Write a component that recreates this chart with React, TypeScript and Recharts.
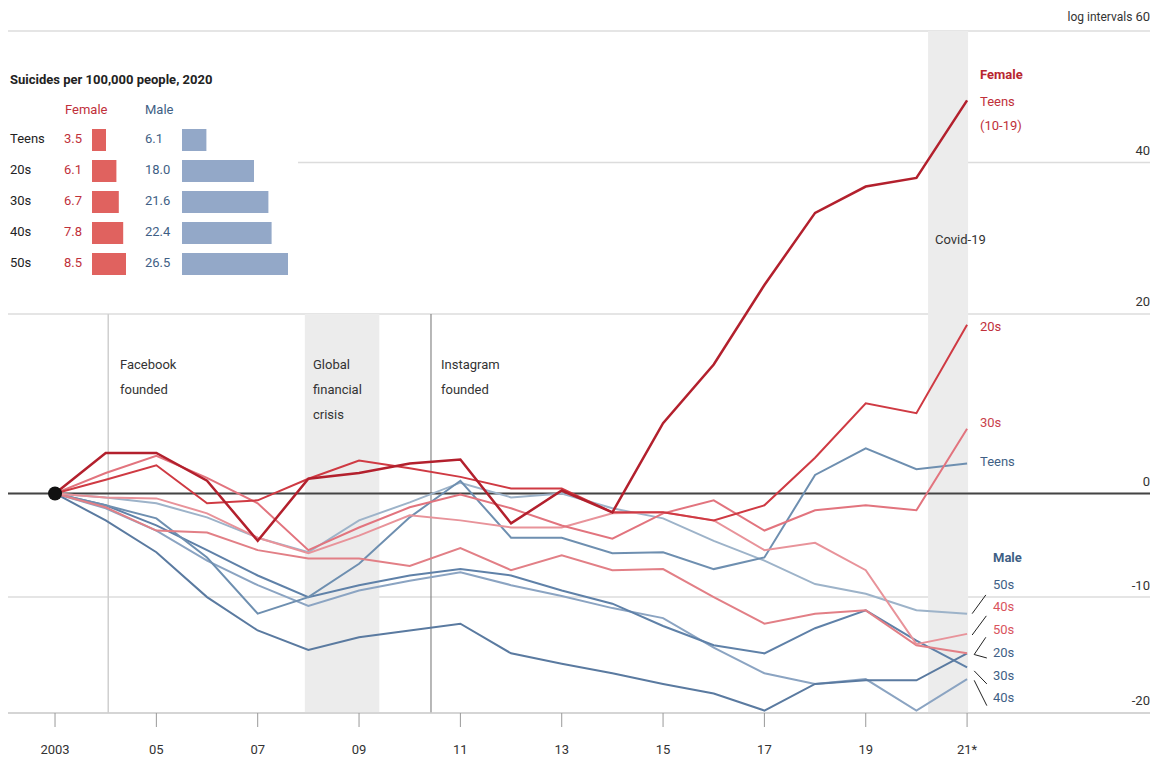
import React from 'react';
import {
  LineChart, Line, XAxis, YAxis, CartesianGrid, ReferenceArea, ReferenceLine, ReferenceDot,
  BarChart, Bar, LabelList,
} from 'recharts';

const FONT = "Roboto, 'Open Sans', sans-serif";

// ---- Main chart data: % change since 2003 (log scale) ----
const years = [2003, 2004, 2005, 2006, 2007, 2008, 2009, 2010, 2011, 2012, 2013, 2014, 2015, 2016, 2017, 2018, 2019, 2020, 2021];
const femaleTeens = [0, 4.2, 4.2, 1.3, -4.7, 1.5, 2.1, 3.1, 3.5, -3.0, 0.3, -1.9, 7.4, 14.0, 23.6, 33.0, 36.6, 37.8, 49.1];
const female20s = [0, 1.4, 2.9, -1.0, -0.7, 1.5, 3.4, 2.6, 1.7, 0.5, 0.5, -1.9, -1.9, -2.7, -1.2, 3.7, 9.6, 8.5, 18.7];
const female30s = [0, 2.1, 3.9, 1.6, -1.0, -5.6, -3.4, -1.4, -0.1, -1.5, -3.2, -4.5, -2.0, -0.7, -3.7, -1.7, -1.2, -1.7, 6.8];
const female40s = [0, -0.4, -0.5, -2.0, -4.4, -5.9, -4.2, -2.2, -2.7, -3.4, -3.4, -2.0, -1.9, -2.7, -5.6, -4.9, -7.5, -14.2, -13.3];
const female50s = [0, -1.4, -3.7, -3.9, -5.6, -6.4, -6.4, -7.1, -5.4, -7.5, -6.1, -7.5, -7.4, -10.0, -12.4, -11.5, -11.2, -14.3, -15.0];
const maleTeens = [0, -1.2, -2.5, -6.3, -11.5, -10.0, -6.9, -2.4, 1.3, -4.4, -4.4, -5.9, -5.8, -7.4, -6.3, 1.9, 4.7, 2.5, 3.1];
const male20s = [0, -2.7, -5.8, -10.0, -13.0, -14.7, -13.6, -13.0, -12.4, -15.0, -15.9, -16.7, -17.6, -18.4, -19.8, -17.6, -17.3, -17.3, -15.0];
const male30s = [0, -1.2, -3.2, -5.6, -8.0, -10.0, -8.9, -8.0, -7.4, -8.0, -9.4, -10.6, -12.6, -14.3, -15.0, -12.8, -11.2, -13.9, -16.2];
const male40s = [0, -1.5, -3.7, -6.6, -8.9, -10.8, -9.4, -8.5, -7.7, -8.9, -9.9, -11.0, -11.9, -14.5, -16.7, -17.6, -17.2, -19.8, -17.2];
const male50s = [0, -0.4, -1.0, -2.4, -4.4, -5.8, -2.7, -0.9, 1.1, -0.4, 0, -1.5, -2.5, -4.7, -6.6, -8.8, -9.7, -11.2, -11.5];

const xTicks = [2003, 2005, 2007, 2009, 2011, 2013, 2015, 2017, 2019, 2021];
const yTicks = [-20, -10, 0, 20, 40, 60];

// ---- Inset data: suicides per 100,000 people, 2020 ----
const ageGroups = ['Teens', '20s', '30s', '40s', '50s'];
const femaleRates = [3.5, 6.1, 6.7, 7.8, 8.5];
const maleRates = [6.1, 18.0, 21.6, 22.4, 26.5];

const series = [
  { key: 'm50', values: male50s, color: '#9db3c9', width: 2 },
  { key: 'm40', values: male40s, color: '#8ba4c2', width: 2 },
  { key: 'm30', values: male30s, color: '#5f81a8', width: 2 },
  { key: 'm20', values: male20s, color: '#5a7aa0', width: 2 },
  { key: 'mTeens', values: maleTeens, color: '#6e8fb0', width: 2 },
  { key: 'f50', values: female50s, color: '#e27f86', width: 2 },
  { key: 'f40', values: female40s, color: '#e8939a', width: 2 },
  { key: 'f30', values: female30s, color: '#e2747e', width: 2 },
  { key: 'f20', values: female20s, color: '#cf3a43', width: 2 },
  { key: 'fTeens', values: femaleTeens, color: '#b3202d', width: 2.5 },
];

const idx = (pct: number) => 100 + pct;

const data = years.map((year, i) => {
  const row: Record<string, number> = { year };
  series.forEach((s) => { row[s.key] = idx(s.values[i]); });
  return row;
});

const insetData = ageGroups.map((g, i) => ({ group: g, female: femaleRates[i], male: maleRates[i] }));

const YTick = (props: any) => {
  const { y, payload } = props;
  const v = Math.round(payload.value - 100);
  if (v === 60) {
    return (
      <text x={1150} y={y - 13} textAnchor="end" dominantBaseline="middle" fontFamily={FONT} fontSize={13} fill="#333">
        <tspan fontSize={12}>log intervals </tspan>60
      </text>
    );
  }
  return (
    <text x={1150} y={y - 11} textAnchor="end" dominantBaseline="middle" fontFamily={FONT} fontSize={13} fill="#333">
      {v}
    </text>
  );
};

const XTick = (props: any) => {
  const { x, y, payload } = props;
  const v = payload.value;
  const label = v === 2003 ? '2003' : v === 2021 ? '21*' : String(v).slice(2);
  return (
    <text x={x} y={y + 22} textAnchor="middle" dominantBaseline="middle" fontFamily={FONT} fontSize={13} fill="#333">
      {label}
    </text>
  );
};

const connectors: { x1: number; y1: number; x2: number; y2: number }[] = [
  { x1: 2021.1, y1: -11.5, x2: 2021.37, y2: -9.8 },
  { x1: 2021.1, y1: -13.4, x2: 2021.38, y2: -11.7 },
  { x1: 2021.14, y1: -15.1, x2: 2021.37, y2: -13.6 },
  { x1: 2021.14, y1: -15.1, x2: 2021.39, y2: -15.4 },
  { x1: 2021.14, y1: -16.5, x2: 2021.39, y2: -17.6 },
  { x1: 2021.14, y1: -17.3, x2: 2021.39, y2: -19.4 },
];

const txt = (extra: React.CSSProperties): React.CSSProperties => ({
  position: 'absolute', fontFamily: FONT, fontSize: 13, color: '#333', lineHeight: '25px', whiteSpace: 'nowrap', ...extra,
});

const lbl = (text: string, left: number, cy: number, color: string, bold = false) => (
  <div key={text + cy} style={txt({ left, top: cy - 9, lineHeight: '18px', color, fontWeight: bold ? 700 : 400 })}>{text}</div>
);

export default function App() {
  return (
    <div style={{ position: 'absolute', left: 0, top: 0, width: 1158, height: 762, background: '#fff', overflow: 'hidden' }}>
      <LineChart width={1158} height={762} data={data} margin={{ top: 31, right: 0, left: 8, bottom: 0 }}>
        <CartesianGrid vertical={false} stroke="#dcdcdc" strokeWidth={1.5} />
        <ReferenceArea x1={2007.93} x2={2009.4} y1={120} y2={80} fill="#ececec" fillOpacity={1} stroke="none" ifOverflow="hidden" />
        <ReferenceArea x1={2020.23} x2={2021.02} y1={160} y2={80} fill="#ececec" fillOpacity={1} stroke="none" ifOverflow="hidden" />
        <ReferenceLine segment={[{ x: 2004.05, y: 120 }, { x: 2004.05, y: 80 }]} stroke="#cfcfcf" strokeWidth={1.5} />
        <ReferenceLine segment={[{ x: 2010.42, y: 120 }, { x: 2010.42, y: 80 }]} stroke="#888" strokeWidth={1.2} />
        <XAxis
          dataKey="year" type="number" domain={[2002.072, 2024.61]} ticks={xTicks} allowDataOverflow
          height={49} axisLine={{ stroke: '#cfcfcf', strokeWidth: 1.5 }} tickLine={{ stroke: '#999' }} tickSize={14} tick={<XTick />}
          interval={0}
        />
        <YAxis
          orientation="right" scale="log" domain={[80, 160]} allowDataOverflow ticks={yTicks.map(idx)}
          width={8} axisLine={false} tickLine={false} tick={<YTick />} interval={0}
        />
        <ReferenceLine y={100} stroke="#444" strokeWidth={2} />
        {series.map((s) => (
          <Line key={s.key} dataKey={s.key} type="linear" stroke={s.color} strokeWidth={s.width} dot={false} isAnimationActive={false} />
        ))}
        {connectors.map((c, i) => (
          <ReferenceLine key={i} segment={[{ x: c.x1, y: idx(c.y1) }, { x: c.x2, y: idx(c.y2) }]} stroke="#222" strokeWidth={1} ifOverflow="visible" />
        ))}
        <ReferenceDot x={2003} y={100} r={7} fill="#111" stroke="none" />
      </LineChart>

      {/* Event annotations */}
      <div style={txt({ left: 120, top: 352 })}>Facebook<br />founded</div>
      <div style={txt({ left: 313, top: 352 })}>Global<br />financial<br />crisis</div>
      <div style={txt({ left: 441, top: 352 })}>Instagram<br />founded</div>
      <div style={txt({ left: 935, top: 227 })}>Covid-19</div>

      {/* Right-hand labels */}
      {lbl('Female', 980, 75, '#b8262f', true)}
      {lbl('Teens', 980, 102, '#c0303a')}
      {lbl('(10-19)', 980, 126, '#c0303a')}
      {lbl('20s', 980, 327, '#c0303a')}
      {lbl('30s', 980, 423, '#c9424c')}
      {lbl('Teens', 980, 462, '#3f5f85')}
      {lbl('Male', 993, 558, '#3f5f85', true)}
      {lbl('50s', 993, 585, '#3f5f85')}
      {lbl('40s', 993, 607, '#d9545c')}
      {lbl('50s', 993, 630, '#d9545c')}
      {lbl('20s', 993, 653, '#3f5f85')}
      {lbl('30s', 993, 676, '#3f5f85')}
      {lbl('40s', 993, 698, '#3f5f85')}

      {/* Inset */}
      <div style={{ position: 'absolute', left: 0, top: 48, width: 298, height: 250, background: '#fff' }} />
      <div style={txt({ left: 10, top: 71, lineHeight: '18px', fontWeight: 700, color: '#222' })}>Suicides per 100,000 people, 2020</div>
      <div style={txt({ left: 65, top: 101, lineHeight: '18px', color: '#c0303a' })}>Female</div>
      <div style={txt({ left: 145, top: 101, lineHeight: '18px', color: '#3f5f85' })}>Male</div>
      <div style={{ position: 'absolute', left: 0, top: 124 }}>
        <BarChart width={160} height={155} data={insetData} layout="vertical" margin={{ top: 0, right: 8, left: 92, bottom: 0 }}>
          <XAxis type="number" domain={[0, 15]} hide />
          <YAxis type="category" dataKey="group" hide />
          <Bar dataKey="female" fill="#e0625f" barSize={22} isAnimationActive={false}>
            <LabelList
              dataKey="female"
              content={(p: any) => (
                <text x={p.x - 28} y={p.y + p.height / 2} textAnchor="start" dominantBaseline="middle" fontFamily={FONT} fontSize={13} fill="#c0303a">
                  {Number(p.value).toFixed(1)}
                </text>
              )}
            />
            <LabelList
              dataKey="group"
              content={(p: any) => (
                <text x={10} y={p.y + p.height / 2} textAnchor="start" dominantBaseline="middle" fontFamily={FONT} fontSize={13} fill="#222">
                  {p.value}
                </text>
              )}
            />
          </Bar>
        </BarChart>
      </div>
      <div style={{ position: 'absolute', left: 130, top: 124 }}>
        <BarChart width={172} height={155} data={insetData} layout="vertical" margin={{ top: 0, right: 0, left: 52, bottom: 0 }}>
          <XAxis type="number" domain={[0, 30]} hide />
          <YAxis type="category" dataKey="group" hide />
          <Bar dataKey="male" fill="#93a8c8" barSize={22} isAnimationActive={false}>
            <LabelList
              dataKey="male"
              content={(p: any) => (
                <text x={p.x - 37} y={p.y + p.height / 2} textAnchor="start" dominantBaseline="middle" fontFamily={FONT} fontSize={13} fill="#3f5f85">
                  {Number(p.value).toFixed(1)}
                </text>
              )}
            />
          </Bar>
        </BarChart>
      </div>
    </div>
  );
}
